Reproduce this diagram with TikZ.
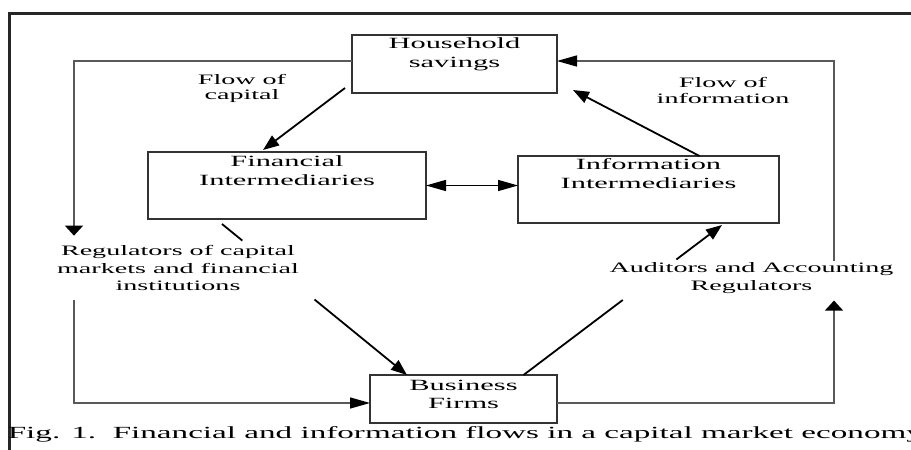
\documentclass[tikz,border=0pt]{standalone}
\usepackage{fontspec}
\setmainfont{Liberation Serif}
\usetikzlibrary{arrows.meta,positioning,calc}

\begin{document}
\begin{tikzpicture}[
  x=0.5pt, y=-0.5pt,
  box/.style={
    draw=black!80,
    line width=0.75pt,
    inner sep=0pt,
    outer sep=0pt,
    fill=white
  },
  boxText/.style={
    xscale=1.95,
    align=center,
    inner sep=0pt,
    font=\fontsize{7.8}{9.3}\selectfont
  },
  note/.style={
    xscale=1.95,
    align=center,
    inner xsep=0pt,
    font=\fontsize{7.2}{8.6}\selectfont
  },
  figCaption/.style={
    xscale=1.95,
    anchor=base west,
    inner sep=0pt,
    font=\fontsize{8.5}{10}\selectfont
  },
  link/.style={line width=0.9pt},
  flow/.style={link, -{Triangle[length=8pt,width=6pt]}},
  both/.style={line width=0.7pt, {Triangle[length=10pt,width=5.5pt]}-{Triangle[length=10pt,width=5.5pt]}},
  lane/.style={line width=0.7pt, draw=black!65},
  hTip/.style={-{Triangle[length=10pt,width=5.5pt,color=black]}},
  vTip/.style={-{Triangle[length=5pt,width=9pt,color=black]}},
  frameLine/.style={line width=1.5pt, draw=black!85}
]

\useasboundingbox (0,0) rectangle (911,450);

% frame
\draw[frameLine] (9,455) -- (9,13) -- (915,13);

% boxes
\node[box, minimum width=102.5pt, minimum height=29pt] (house) at (454.5,64) {};
\node[boxText, below=1.3pt of house.north] (houseText) {Household\\savings};

\node[box, minimum width=139pt, minimum height=33.5pt] (fin) at (287,185.5) {};
\node[boxText, below=1.6pt of fin.north] (finText) {Financial\\Intermediaries};

\node[box, minimum width=130.5pt, minimum height=33.5pt] (info) at (648.5,189.5) {};
\node[boxText, below=1.3pt of info.north] (infoText) {Information\\Intermediaries};

\node[box, minimum width=93.5pt, minimum height=24pt] (bus) at (463.5,399) {};
\node[boxText, below=2.2pt of bus.north] (busText) {Business\\Firms};

% labels
\node[note, inner ysep=0pt, font=\fontsize{7.2}{7.6}\selectfont] (capLbl) at (242,88.5) {Flow of\\capital};
\node[note, inner ysep=0pt, font=\fontsize{7.2}{8}\selectfont] (infoLbl) at (723,90) {Flow of\\information};
\node[note, inner ysep=4.8pt] (reg) at (178,268) {Regulators of capital\\markets and financial\\institutions};
\node[note, inner ysep=0.5pt] (aud) at (751.5,278) {Auditors and Accounting\\Regulators};

% lanes round the outside
\coordinate (leftLane)  at (74,61);
\coordinate (rightLane) at (834,61);

% flows between the boxes
\draw[flow] ([shift={(-7,-5)}]house.south west) -- ([shift={(-24,-2)}]fin.north);
\draw[flow] ([xshift=25.5pt]info.north) -- ([shift={(16,-3)}]house.south east);
\draw[both] (fin.east) -- (fin.east -| info.west);

% fin -> bus, broken at the regulators text
\coordinate (finOut) at ($(fin.south west)+(74,5)$);
\coordinate (busIn)  at ($(bus.north west)+(37,0)$);
\draw[link] (finOut) -- ($(finOut)!0.11!(busIn)$);
\draw[flow] ($(finOut)!0.5!(busIn)$) -- (busIn);

% bus -> info, broken at the auditors text
\coordinate (busOut) at ($(bus.north)+(60,0)$);
\coordinate (infoIn) at ($(info.south)+(73.5,2)$);
\draw[link] (busOut) -- ($(busOut)!0.5!(infoIn)$);
\draw[flow] ($(busOut)!0.77!(infoIn)$) -- (infoIn);

% left loop
\draw[lane, vTip] (house.west |- leftLane) -- (leftLane) -- (leftLane |- reg.north);
\draw[lane, hTip] (leftLane |- reg.south) |- ($(bus.west)+(0,4)$);

% right loop
\draw[lane, vTip] ($(bus.east)+(0,4)$) -| ($(aud.south -| rightLane)+(0,6)$);
\draw[lane, hTip] (aud.north -| rightLane) |- ($(house.east)+(0,-3)$);

% caption
\node[figCaption] (caption) at (7,438) {Fig. 1.\ \ Financial and information flows in a capital market economy};

\end{tikzpicture}
\end{document}
